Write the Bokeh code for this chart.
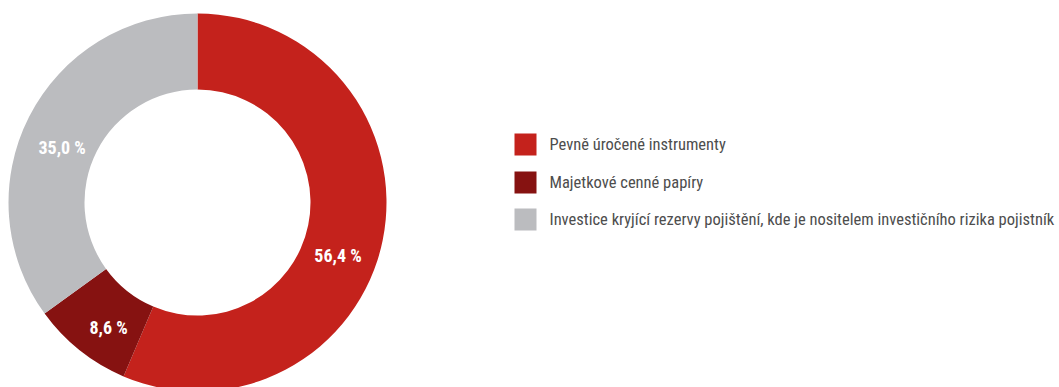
import math
from bokeh.plotting import figure
from bokeh.models import Range1d, ColumnDataSource
from bokeh.core.properties import value
from bokeh.embed import file_html
from bokeh.resources import INLINE

categories = ["Pevně úročené instrumenty", "Majetkové cenné papíry",
              "Investice kryjící rezervy pojištění, kde je nositelem investičního rizika pojistník"]
shares = [56.4, 8.6, 35.0]
labels = ["56,4 %", "8,6 %", "35,0 %"]
colors = ["#C4221C", "#861211", "#BBBCBF"]

W, H = 1059, 387
cx, cy = 197, H - 202
r_in, r_out = 113, 189
label_r = [150, 153, 146]
label_nudge_deg = [9, -3, -5]
FONT = "Roboto Condensed, DejaVu Sans Condensed, Roboto"

p = figure(width=W, height=H, x_range=Range1d(0, W), y_range=Range1d(0, H),
           output_backend="svg", toolbar_location=None, min_border=0)
p.axis.visible = False
p.grid.visible = False
p.outline_line_color = None
p.background_fill_color = "white"
p.border_fill_color = "white"

total = sum(shares)
starts, ends, lx, ly = [], [], [], []
cum = 0.0
for i, s in enumerate(shares):
    a0 = cum / total * 2 * math.pi
    cum += s
    a1 = cum / total * 2 * math.pi
    starts.append(math.pi / 2 - a1)
    ends.append(math.pi / 2 - a0)
    mid = (a0 + a1) / 2 + math.radians(label_nudge_deg[i])
    lx.append(cx + label_r[i] * math.sin(mid))
    ly.append(cy + label_r[i] * math.cos(mid))

src = ColumnDataSource(dict(start=starts, end=ends, color=colors, lx=lx, ly=ly, label=labels))
p.annular_wedge(x=cx, y=cy, inner_radius=r_in, outer_radius=r_out,
                start_angle="start", end_angle="end", color="color",
                direction="anticlock", source=src, line_color=None)
p.text(x="lx", y="ly", text="label", source=src, text_color="white",
       text_font=value(FONT), text_font_style="bold",
       text_font_size="18px", text_align="center", text_baseline="middle")

leg_y = [H - 144, H - 182, H - 219]
leg = ColumnDataSource(dict(y=leg_y, color=colors, name=categories))
p.rect(x=525, y="y", width=22, height=22, color="color", source=leg, line_color=None)
p.text(x=549, y="y", text="name", source=leg, text_color="#4D4D4D",
       text_font=value(FONT), text_font_size="16.5px",
       text_align="left", text_baseline="middle")

open("out.html", "w").write(file_html(p, INLINE))
